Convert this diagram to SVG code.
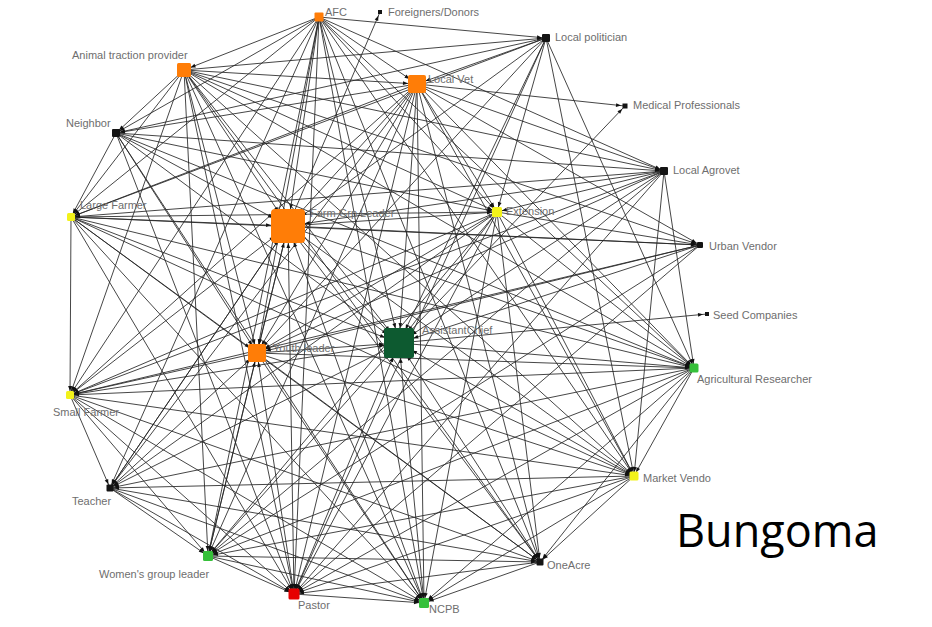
<svg xmlns="http://www.w3.org/2000/svg" width="932" height="627" viewBox="0 0 932 627">
<style>
  .edges path{fill:none;stroke:#262626;stroke-width:1;stroke-opacity:0.85}
  .lbl{font-family:"Liberation Sans",Arial,sans-serif;font-size:11px;fill:#6e6e6e}
  .title{font-family:"Open Sans","Noto Sans",sans-serif;font-size:45px;fill:#000}
  .or{fill:#ff7d07}
  .bk{fill:#141414}
  .ye{fill:#f2f21a}
  .gr{fill:#36c03a}
  .dg{fill:#0d5a30}
  .rd{fill:#e60000}
  .t4{marker-end:url(#m4)}
  .t5{marker-end:url(#m5)}
  .t7{marker-end:url(#m7)}
  .t9{marker-end:url(#m9)}
  .t15{marker-end:url(#m15)}
  .t17{marker-end:url(#m17)}
</style>
<defs>
  <!-- arrowheads; refX pulls the tip back to the edge of the target square -->
  <marker id="m4" markerUnits="userSpaceOnUse" refX="4" refY="0" markerWidth="10" markerHeight="10" orient="auto" overflow="visible"><path d="M-5,-1.9L0,0L-5,1.9Z" fill="#111"/></marker>
  <marker id="m5" markerUnits="userSpaceOnUse" refX="5" refY="0" markerWidth="10" markerHeight="10" orient="auto" overflow="visible"><path d="M-5,-1.9L0,0L-5,1.9Z" fill="#111"/></marker>
  <marker id="m7" markerUnits="userSpaceOnUse" refX="7" refY="0" markerWidth="10" markerHeight="10" orient="auto" overflow="visible"><path d="M-5,-1.9L0,0L-5,1.9Z" fill="#111"/></marker>
  <marker id="m9" markerUnits="userSpaceOnUse" refX="9" refY="0" markerWidth="10" markerHeight="10" orient="auto" overflow="visible"><path d="M-5,-1.9L0,0L-5,1.9Z" fill="#111"/></marker>
  <marker id="m15" markerUnits="userSpaceOnUse" refX="15" refY="0" markerWidth="10" markerHeight="10" orient="auto" overflow="visible"><path d="M-5,-1.9L0,0L-5,1.9Z" fill="#111"/></marker>
  <marker id="m17" markerUnits="userSpaceOnUse" refX="17" refY="0" markerWidth="10" markerHeight="10" orient="auto" overflow="visible"><path d="M-5,-1.9L0,0L-5,1.9Z" fill="#111"/></marker>
</defs>
<rect width="932" height="627" fill="#fff"/>

<g id="connectors" class="edges">
  <!-- to Animal traction provider -->
  <g class="t7"><path d="M319 17L184 70"/></g>
  <!-- to Local politician -->
  <g class="t4"><path d="M319 17L546 38"/><path d="M184 70L546 38"/></g>
  <!-- to Local Vet -->
  <g class="t9"><path d="M319 17L417 84"/><path d="M184 70L417 84"/><path d="M546 38L417 84"/></g>
  <!-- to Farm Grp Leader -->
  <g class="t17">
    <path d="M319 17L288 226"/><path d="M184 70L288 226"/><path d="M546 38L288 226"/><path d="M417 84L288 226"/>
    <path d="M116 133L288 226"/><path d="M664 171L288 226"/><path d="M71 217L288 226"/><path d="M70 395L288 226"/>
    <path d="M110 488L288 226"/><path d="M208 556L288 226"/><path d="M294 594L288 226"/><path d="M424 603L288 226"/>
  </g>
  <!-- to Extension -->
  <g class="t5">
    <path d="M319 17L497 212"/><path d="M184 70L497 212"/><path d="M546 38L497 212"/><path d="M417 84L497 212"/>
    <path d="M116 133L497 212"/><path d="M664 171L497 212"/><path d="M71 217L497 212"/><path d="M288 226L497 212"/>
  </g>
  <!-- to Youth leader -->
  <g class="t9">
    <path d="M319 17L257 353"/><path d="M184 70L257 353"/><path d="M546 38L257 353"/><path d="M417 84L257 353"/>
    <path d="M116 133L257 353"/><path d="M664 171L257 353"/><path d="M71 217L257 353"/><path d="M288 226L257 353"/>
    <path d="M497 212L257 353"/><path d="M700 245L257 353"/><path d="M208 556L257 353"/><path d="M294 594L257 353"/>
    <path d="M110 488L257 353"/>
  </g>
  <!-- to AssistantChief -->
  <g class="t15">
    <path d="M319 17L399 343"/><path d="M184 70L399 343"/><path d="M546 38L399 343"/><path d="M417 84L399 343"/>
    <path d="M116 133L399 343"/><path d="M664 171L399 343"/><path d="M71 217L399 343"/><path d="M288 226L399 343"/>
    <path d="M497 212L399 343"/><path d="M700 245L399 343"/><path d="M257 353L399 343"/><path d="M70 395L399 343"/>
    <path d="M208 556L399 343"/><path d="M294 594L399 343"/><path d="M424 603L399 343"/><path d="M540 562L399 343"/>
    <path d="M634 476L399 343"/>
  </g>
  <!-- to Local Agrovet -->
  <g class="t4"><path d="M319 17L664 171"/><path d="M184 70L664 171"/><path d="M417 84L664 171"/><path d="M116 133L664 171"/></g>
  <!-- to Neighbor -->
  <g class="t4"><path d="M319 17L116 133"/><path d="M184 70L116 133"/><path d="M546 38L116 133"/><path d="M417 84L116 133"/></g>
  <!-- to Large Farmer -->
  <g class="t4">
    <path d="M319 17L71 217"/><path d="M184 70L71 217"/><path d="M546 38L71 217"/><path d="M417 84L71 217"/>
    <path d="M116 133L71 217"/><path d="M664 171L71 217"/>
  </g>
  <!-- to Small Farmer -->
  <g class="t4">
    <path d="M319 17L70 395"/><path d="M184 70L70 395"/><path d="M417 84L70 395"/><path d="M664 171L70 395"/>
    <path d="M71 217L70 395"/><path d="M497 212L70 395"/><path d="M700 245L70 395"/><path d="M257 353L70 395"/>
    <path d="M694 368L70 395"/>
  </g>
  <!-- to Market Vendor -->
  <g class="t4">
    <path d="M319 17L634 476"/><path d="M184 70L634 476"/><path d="M546 38L634 476"/><path d="M417 84L634 476"/>
    <path d="M664 171L634 476"/><path d="M71 217L634 476"/><path d="M288 226L634 476"/><path d="M497 212L634 476"/>
    <path d="M257 353L634 476"/><path d="M694 368L634 476"/><path d="M70 395L634 476"/>
  </g>
  <!-- to Agricultural Researcher -->
  <g class="t4">
    <path d="M319 17L694 368"/><path d="M184 70L694 368"/><path d="M546 38L694 368"/><path d="M417 84L694 368"/>
    <path d="M116 133L694 368"/><path d="M664 171L694 368"/><path d="M71 217L694 368"/><path d="M288 226L694 368"/>
    <path d="M497 212L694 368"/><path d="M257 353L694 368"/><path d="M399 343L694 368"/>
  </g>
  <!-- to Women's group leader -->
  <g class="t5">
    <path d="M319 17L208 556"/><path d="M184 70L208 556"/><path d="M417 84L208 556"/><path d="M664 171L208 556"/>
    <path d="M497 212L208 556"/><path d="M700 245L208 556"/><path d="M694 368L208 556"/><path d="M70 395L208 556"/>
    <path d="M634 476L208 556"/><path d="M110 488L208 556"/>
  </g>
  <!-- to Pastor -->
  <g class="t5">
    <path d="M319 17L294 594"/><path d="M184 70L294 594"/><path d="M546 38L294 594"/><path d="M417 84L294 594"/>
    <path d="M116 133L294 594"/><path d="M664 171L294 594"/><path d="M71 217L294 594"/><path d="M497 212L294 594"/>
    <path d="M700 245L294 594"/><path d="M694 368L294 594"/><path d="M70 395L294 594"/><path d="M634 476L294 594"/>
    <path d="M110 488L294 594"/><path d="M208 556L294 594"/><path d="M540 562L294 594"/>
  </g>
  <!-- to NCPB -->
  <g class="t5">
    <path d="M319 17L424 603"/><path d="M184 70L424 603"/><path d="M417 84L424 603"/><path d="M116 133L424 603"/>
    <path d="M71 217L424 603"/><path d="M497 212L424 603"/><path d="M257 353L424 603"/><path d="M694 368L424 603"/>
    <path d="M70 395L424 603"/><path d="M634 476L424 603"/><path d="M110 488L424 603"/><path d="M208 556L424 603"/>
    <path d="M540 562L424 603"/><path d="M294 594L424 603"/>
  </g>
  <!-- to OneAcre -->
  <g class="t4">
    <path d="M319 17L540 562"/><path d="M184 70L540 562"/><path d="M417 84L540 562"/><path d="M71 217L540 562"/>
    <path d="M288 226L540 562"/><path d="M497 212L540 562"/><path d="M257 353L540 562"/><path d="M694 368L540 562"/>
    <path d="M70 395L540 562"/><path d="M634 476L540 562"/><path d="M110 488L540 562"/><path d="M208 556L540 562"/>
  </g>
  <!-- to Teacher -->
  <g class="t4">
    <path d="M319 17L110 488"/><path d="M417 84L110 488"/><path d="M288 226L110 488"/><path d="M497 212L110 488"/>
    <path d="M399 343L110 488"/><path d="M694 368L110 488"/><path d="M70 395L110 488"/><path d="M634 476L110 488"/>
  </g>
  <!-- to Urban Vendor -->
  <g class="t4">
    <path d="M184 70L700 245"/><path d="M417 84L700 245"/><path d="M71 217L700 245"/><path d="M288 226L700 245"/>
    <path d="M497 212L700 245"/>
  </g>
  <!-- single-tie actors -->
  <g class="t4">
    <path d="M417 84L625 106"/><path d="M399 343L625 106"/>
    <path d="M399 343L707 314"/>
    <path d="M288 226L380 12"/>
  </g>
</g>

<!-- actors -->
<g id="afc"><rect class="or" x="314.5" y="12.5" width="9" height="9" rx="1"/><text class="lbl" x="325" y="16">AFC</text></g>
<g id="foreigners-donors"><rect class="bk" x="378" y="10" width="4" height="4"/><text class="lbl" x="388" y="16">Foreigners/Donors</text></g>
<g id="local-politician"><rect class="bk" x="542" y="34" width="8" height="8" rx="1"/><text class="lbl" x="555" y="41">Local politician</text></g>
<g id="animal-traction-provider"><rect class="or" x="177" y="63" width="14" height="14" rx="1.5"/><text class="lbl" x="72" y="59">Animal traction provider</text></g>
<g id="local-vet"><rect class="or" x="408" y="75" width="18" height="18" rx="2"/><text class="lbl" x="428" y="83">Local Vet</text></g>
<g id="medical-professionals"><rect class="bk" x="622.5" y="103.5" width="5" height="5"/><text class="lbl" x="633" y="109">Medical Professionals</text></g>
<g id="neighbor"><rect class="bk" x="112" y="129" width="8" height="8" rx="1"/><text class="lbl" x="66" y="127">Neighbor</text></g>
<g id="local-agrovet"><rect class="bk" x="660" y="167" width="8" height="8" rx="1"/><text class="lbl" x="673" y="174">Local Agrovet</text></g>
<g id="large-farmer"><rect class="ye" x="67" y="213" width="8" height="8" rx="1.5"/><text class="lbl" x="80" y="209">Large Farmer</text></g>
<g id="farm-grp-leader"><rect class="or" x="271" y="209" width="34" height="34" rx="4"/><text class="lbl" x="310" y="217">Farm Grp Leader</text></g>
<g id="extension"><rect class="ye" x="492" y="207" width="10" height="10" rx="1.5"/><text class="lbl" x="506" y="215">Extension</text></g>
<g id="urban-vendor"><rect class="bk" x="697" y="242" width="6" height="6" rx="1"/><text class="lbl" x="709" y="250">Urban Vendor</text></g>
<g id="seed-companies"><rect class="bk" x="705" y="312" width="4" height="4"/><text class="lbl" x="713" y="319">Seed Companies</text></g>
<g id="youth-leader"><rect class="or" x="248" y="344" width="18" height="18" rx="2"/><text class="lbl" x="273" y="352">Youth leader</text></g>
<g id="assistant-chief"><rect class="dg" x="384" y="328" width="30" height="30" rx="2"/><text class="lbl" x="422" y="334">AssistantChief</text></g>
<g id="agricultural-researcher"><rect class="gr" x="689.5" y="363.5" width="9" height="9" rx="1.5"/><text class="lbl" x="697" y="383">Agricultural Researcher</text></g>
<g id="small-farmer"><rect class="ye" x="66" y="391" width="8" height="8" rx="1.5"/><text class="lbl" x="53" y="416">Small Farmer</text></g>
<g id="market-vendor"><rect class="ye" x="629.5" y="471.5" width="9" height="9" rx="1.5"/><text class="lbl" x="643" y="482">Market Vendo</text></g>
<g id="teacher"><rect class="bk" x="106.5" y="484.5" width="7" height="7" rx="1"/><text class="lbl" x="72" y="505">Teacher</text></g>
<g id="womens-group-leader"><rect class="gr" x="203" y="551" width="10" height="10" rx="1.5"/><text class="lbl" x="99" y="578">Women's group leader</text></g>
<g id="oneacre"><rect class="bk" x="536.5" y="558.5" width="7" height="7" rx="1"/><text class="lbl" x="547" y="569">OneAcre</text></g>
<g id="pastor"><rect class="rd" x="288.5" y="588.5" width="11" height="11" rx="1.5"/><text class="lbl" x="298" y="609">Pastor</text></g>
<g id="ncpb"><rect class="gr" x="419" y="598" width="10" height="10" rx="1.5"/><text class="lbl" x="429" y="613">NCPB</text></g>

<text id="region-title" class="title" x="676" y="547">Bungoma</text>
</svg>
